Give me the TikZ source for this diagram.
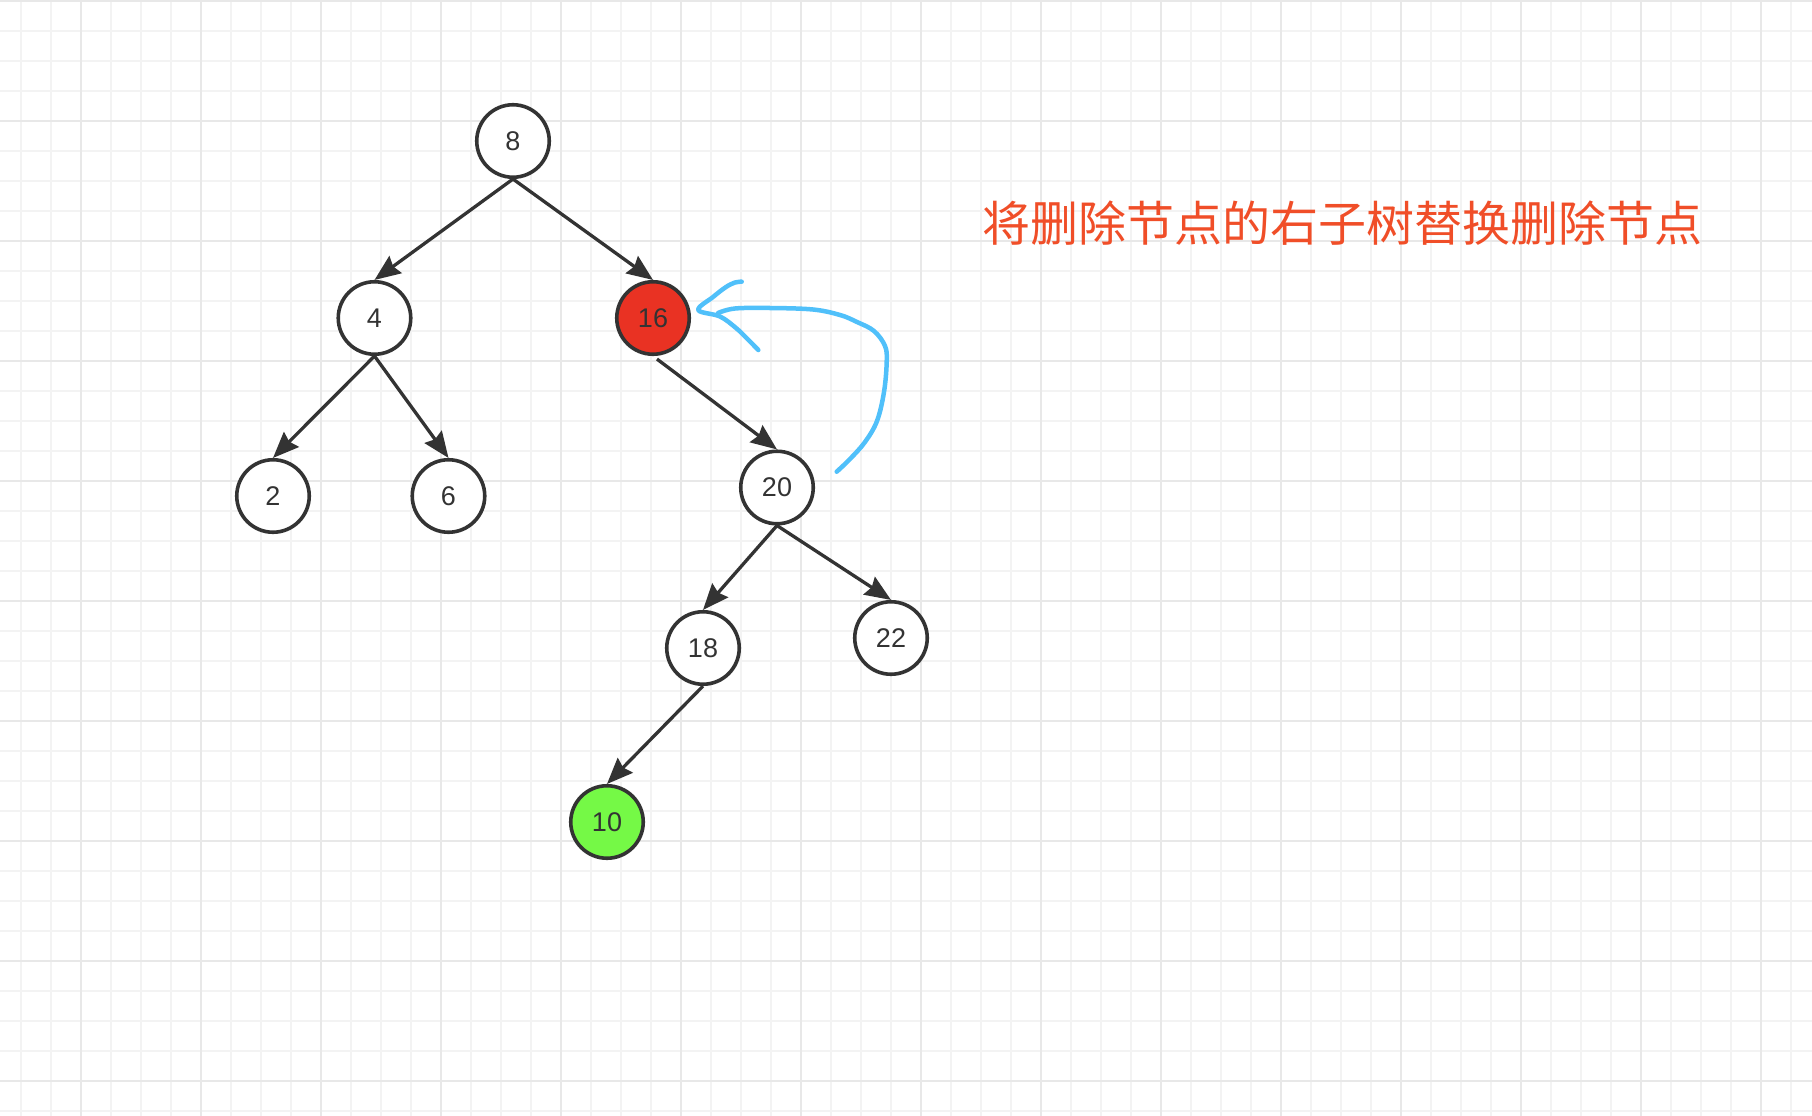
\documentclass[tikz,border=0pt]{standalone}
\usepackage{fontspec}
\setmainfont{Liberation Sans}
\newfontfamily\cjk{Noto Sans CJK SC}
\usetikzlibrary{arrows.meta}
\definecolor{gridminor}{RGB}{243,243,243}
\definecolor{gridmajor}{RGB}{232,232,232}
\definecolor{ink}{RGB}{51,51,51}
\definecolor{delred}{RGB}{233,50,35}
\definecolor{newgreen}{RGB}{117,249,70}
\definecolor{titlecol}{RGB}{240,78,40}
\definecolor{handblue}{RGB}{80,192,250}
\tikzset{
  minorline/.style={draw=gridminor,line width=2pt},
  majorline/.style={draw=gridmajor,line width=2.2pt},
  treenode/.style={circle,draw=ink,line width=3.6pt,fill=white,minimum size=72.5pt,inner sep=0pt,
    font=\fontsize{27}{27}\selectfont,text=ink},
  deleted/.style={fill=delred},
  moved/.style={fill=newgreen},
  link/.style={draw=ink,line width=3.3pt,-{Stealth[length=26pt,width=21pt,inset=3pt]}},
  hand/.style={draw=handblue,line width=4.5pt,line cap=round,line join=round},
  title/.style={text=titlecol,font=\cjk\fontsize{48}{48}\selectfont,inner sep=0pt}
}
\begin{document}
\begin{tikzpicture}[x=1pt,y=-1pt]
\useasboundingbox (0,0) rectangle (1812,1116);
\fill[white] (0,0) rectangle (1812,1116);
% grid
\foreach \i in {0,...,59} \draw[minorline] (20.7+30*\i,0) -- (20.7+30*\i,1116);
\foreach \j in {0,...,37} \draw[minorline] (0,0.7+30*\j) -- (1812,0.7+30*\j);
\foreach \i in {0,...,14} \draw[majorline] (80.7+120*\i,0) -- (80.7+120*\i,1116);
\foreach \j in {0,...,9} \draw[majorline] (0,0.7+120*\j) -- (1812,0.7+120*\j);

% nodes
\node[treenode] (n8) at (513,141) {8};
\node[treenode] (n4) at (374.5,318) {4};
\node[treenode,deleted] (n16) at (653,318) {16};
\node[treenode] (n2) at (273,496) {2};
\node[treenode] (n6) at (448.5,496) {6};
\node[treenode] (n20) at (777,487.5) {20};
\node[treenode] (n18) at (703,648) {18};
\node[treenode] (n22) at (891,638) {22};
\node[treenode,moved] (n10) at (607,822) {10};

% edges
\draw[link] (n8.south) -- (n4.north);
\draw[link] (n8.south) -- (n16.north);
\draw[link] (n4.south) -- (n2.north);
\draw[link] (n4.south) -- (n6.north);
\draw[link,shorten <=5pt] (n16.south) -- (n20.north);
\draw[link] (n20.south) -- (n18.north);
\draw[link] (n20.south) -- (n22.north);
\draw[link] (n18.south) -- (n10.north);

% hand-drawn annotation arrow
\draw[hand] plot[smooth,tension=0.6] coordinates {(836.7,471.7) (850,459) (865,442) (877,421) (884,392) (886.7,362) (885,346) (874,331) (857,322) (840,315) (813,309.5) (770,308) (735,308.5) (718,313)};
\draw[hand] plot[smooth,tension=0.6] coordinates {(741.7,281.7) (735,282.5) (726,287) (713,297) (698.3,310) (720,316.5) (736,328) (747,338.5) (758.3,350)};

% title
\node[title] (caption) at (1342,223) {将删除节点的右子树替换删除节点};
\end{tikzpicture}
\end{document}
